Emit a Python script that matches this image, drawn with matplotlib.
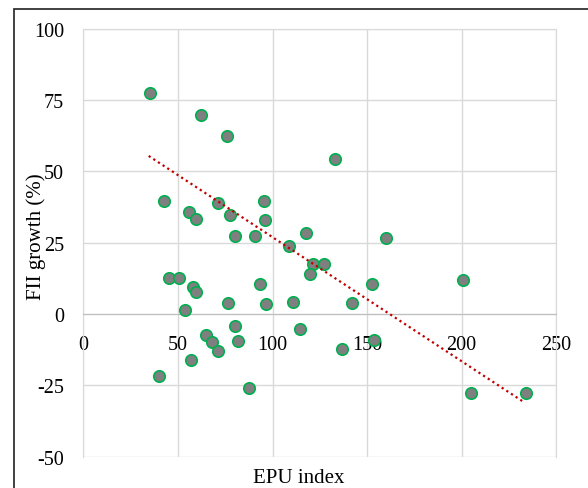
import matplotlib.pyplot as plt
import matplotlib.patches as mpatches
import numpy as np

plt.rcParams['font.family'] = ['Liberation Serif', 'DejaVu Serif']
plt.rcParams['axes.unicode_minus'] = False

# EPU index vs FII growth (%)
epu = [35, 62, 76, 42.6, 55.8, 59.5, 71.2, 77.5, 80, 95.4, 96, 90.7,
       133, 117.7, 160, 108.9, 121.6, 127.2, 119.8, 152.8, 142.2, 200.6,
       136.6, 153.7, 204.9, 234.3, 114.8, 45.2, 50.7, 58.1, 59.4, 53.9,
       76.6, 93.2, 96.7, 110.7, 80, 64.8, 68.2, 71.2, 81.7, 57, 40, 87.4]
fii = [77.5, 69.7, 62.4, 39.7, 35.8, 33.4, 39, 34.8, 27.3, 39.5, 33, 27.3,
       54.3, 28.4, 26.7, 24, 17.6, 17.4, 13.9, 10.6, 3.9, 11.9,
       -12.4, -9, -27.5, -27.5, -5.2, 12.7, 12.8, 9.3, 7.7, 1.3,
       3.9, 10.5, 3.4, 4.1, -4.1, -7.2, -9.8, -13, -9.3, -16.1, -21.7, -26]
# trend line as shown in the chart (slope, intercept)
trend_slope = -0.4346
trend_intercept = 70.4
xticks = [0, 50, 100, 150, 200, 250]
yticks = [-50, -25, 0, 25, 50, 75, 100]

fig = plt.figure(figsize=(5.88, 4.89), dpi=100)
ax = fig.add_axes([0.142, 0.064, 0.8036, 0.8753])

ax.scatter(epu, fii, s=68, c='#7f7f7f', edgecolors='#00b050', linewidths=1.2, zorder=3)

xs = np.array([min(epu) - 0.5, max(epu) - 1])
ax.plot(xs, trend_slope * xs + trend_intercept, color='#c00000', lw=1.6,
        linestyle=(0, (1, 1.5)), zorder=4)

ax.set_xlim(0, 250)
ax.set_ylim(-50, 100)
ax.set_xticks(xticks)
ax.set_yticks(yticks)
ax.grid(True, color='#d9d9d9', lw=1.0, zorder=0)
ax.set_axisbelow(True)
for s in ['left', 'top', 'right']:
    ax.spines[s].set_color('#d9d9d9')
ax.spines['bottom'].set_position(('data', 0))
ax.spines['bottom'].set_color('#bfbfbf')
ax.tick_params(length=0, labelsize=14.5)
ax.tick_params(axis='x', pad=15)
ax.tick_params(axis='y', pad=14)

ax.set_xlabel('EPU index', fontsize=15)
ax.xaxis.set_label_coords(0.456, -0.026)
ax.set_ylabel('FII growth (%)', fontsize=15, va='center')
ax.yaxis.set_label_coords(-0.101, 0.516)

# outer frame (only top and left visible)
fig.patches.append(mpatches.Rectangle((14 / 588, -0.2), 1.0, 1.2 - 10 / 489,
                                      transform=fig.transFigure, fill=False,
                                      edgecolor='#333333', lw=1.3))

fig.savefig('out.png', dpi=100)
